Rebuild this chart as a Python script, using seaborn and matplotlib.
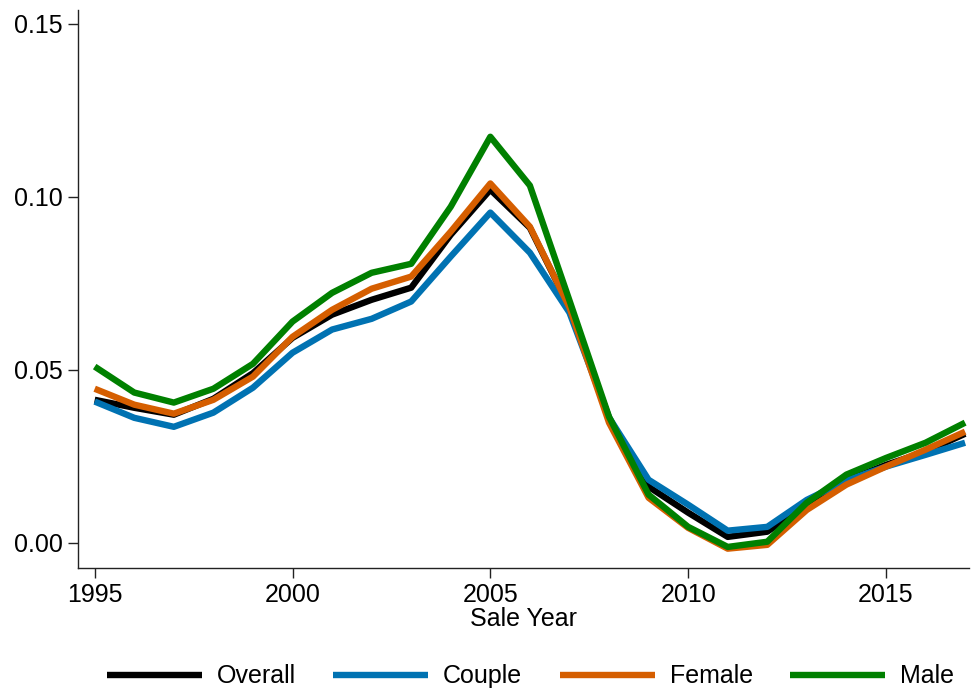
import matplotlib
matplotlib.use("Agg")
import matplotlib.pyplot as plt
import seaborn as sns
import pandas as pd

years = list(range(1995, 2018))

overall = [0.0413, 0.0390, 0.0370, 0.0416, 0.0490, 0.0592, 0.0659, 0.0702, 0.0737,
           0.0890, 0.1020, 0.0910, 0.0680, 0.0360, 0.0162, 0.0087, 0.0017, 0.0032,
           0.0110, 0.0180, 0.0225, 0.0263, 0.0315]
couple = [0.0408, 0.0361, 0.0335, 0.0376, 0.0448, 0.0549, 0.0616, 0.0647, 0.0697,
          0.0827, 0.0954, 0.0838, 0.0665, 0.0362, 0.0182, 0.0110, 0.0035, 0.0046,
          0.0124, 0.0180, 0.0220, 0.0254, 0.0289]
female = [0.0445, 0.0399, 0.0373, 0.0413, 0.0480, 0.0595, 0.0673, 0.0734, 0.0769,
          0.0899, 0.1038, 0.0913, 0.0680, 0.0347, 0.0130, 0.0043, -0.0017, -0.0006,
          0.0095, 0.0168, 0.0220, 0.0269, 0.0321]
male = [0.0509, 0.0434, 0.0405, 0.0445, 0.0517, 0.0639, 0.0722, 0.0780, 0.0806,
        0.0971, 0.1173, 0.1032, 0.0700, 0.0364, 0.0139, 0.0046, -0.0012, 0.0003,
        0.0116, 0.0197, 0.0245, 0.0289, 0.0347]

groups = ["Overall", "Couple", "Female", "Male"]
colors = ["#000000", "#0072B2", "#D55E00", "#008000"]

df = pd.DataFrame({
    "year": years * 4,
    "value": overall + couple + female + male,
    "group": sum([[g] * len(years) for g in groups], []),
})

sns.set_style("white")
plt.rcParams["font.family"] = ["Liberation Sans", "DejaVu Sans"]
plt.rcParams["text.color"] = "black"
plt.rcParams["axes.labelcolor"] = "black"
plt.rcParams["xtick.color"] = "black"
plt.rcParams["ytick.color"] = "black"
plt.rcParams["lines.solid_capstyle"] = "butt"

fig = plt.figure(figsize=(9.71, 6.94), dpi=100)
ax = fig.add_axes([0.080, 0.182, 0.918, 0.804])

sns.lineplot(data=df, x="year", y="value", hue="group", hue_order=groups,
             palette=colors, linewidth=4.6, ax=ax)

ax.set_xlim(1994.57, 2017.1)
ax.set_ylim(-0.0072, 0.154)
ax.set_xticks([1995, 2000, 2005, 2010, 2015])
ax.set_yticks([0.0, 0.05, 0.10, 0.15])
ax.set_yticklabels(["0.00", "0.05", "0.10", "0.15"])
ax.set_xlabel("Sale Year", fontsize=18, labelpad=0)
ax.set_ylabel("")
ax.tick_params(axis="both", labelsize=18, length=7, width=1.0, direction="out",
               color="#222222", pad=4, bottom=True, left=True)

for side in ["top", "right"]:
    ax.spines[side].set_visible(False)
for side in ["left", "bottom"]:
    ax.spines[side].set_color("#222222")
    ax.spines[side].set_linewidth(1.0)

ax.legend(loc="center", bbox_to_anchor=(0.508, -0.195), ncol=4, frameon=False,
          fontsize=18, handlelength=3.8, handletextpad=0.6, columnspacing=1.5)

fig.savefig("out.png", dpi=100)
